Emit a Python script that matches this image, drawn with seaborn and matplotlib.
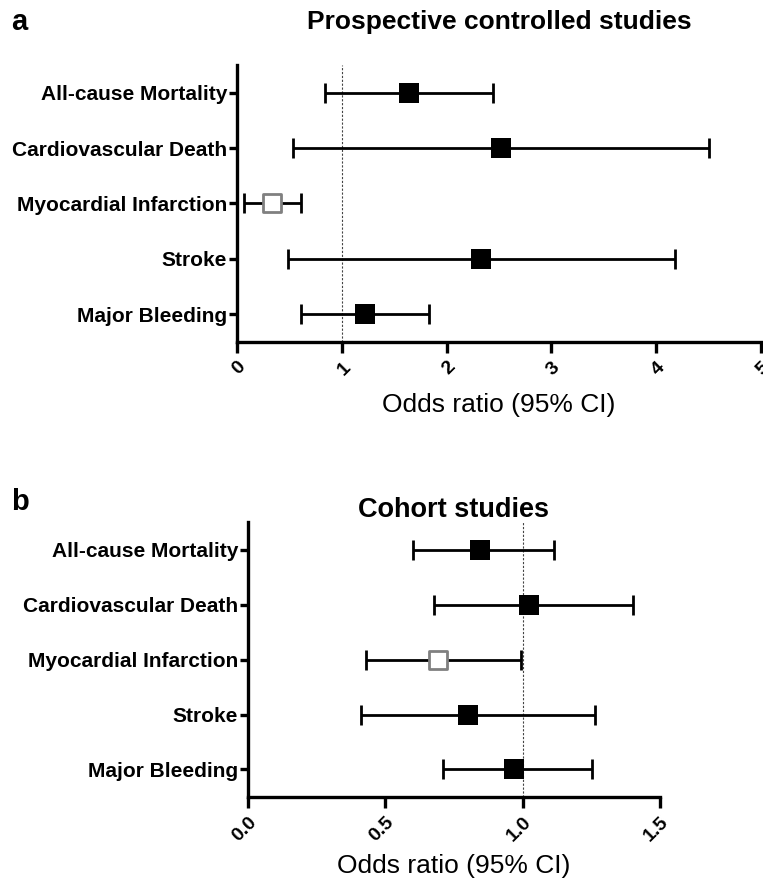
import numpy as np
import pandas as pd
import matplotlib
matplotlib.use("Agg")
import matplotlib.pyplot as plt
import seaborn as sns

categories = ["All-cause Mortality", "Cardiovascular Death", "Myocardial Infarction",
              "Stroke", "Major Bleeding"]
open_marker = [False, False, True, False, False]

# Panel a: prospective controlled studies
a_or = [1.64, 2.52, 0.33, 2.33, 1.22]
a_lo = [0.84, 0.53, 0.065, 0.49, 0.61]
a_hi = [2.44, 4.50, 0.61, 4.18, 1.83]

# Panel b: cohort studies
b_or = [0.846, 1.023, 0.69, 0.80, 0.968]
b_lo = [0.60, 0.679, 0.429, 0.41, 0.711]
b_hi = [1.113, 1.40, 0.995, 1.262, 1.254]

a_ticks = [0, 1, 2, 3, 4, 5]
a_ticklabels = ["0", "1", "2", "3", "4", "5"]
b_ticks = [0.0, 0.5, 1.0, 1.5]
b_ticklabels = ["0.0", "0.5", "1.0", "1.5"]

sns.set_theme(style="ticks")
plt.rcParams["font.family"] = ["Liberation Sans", "DejaVu Sans"]
plt.rcParams["text.color"] = "black"
plt.rcParams["xtick.color"] = "black"
plt.rcParams["ytick.color"] = "black"

fig = plt.figure(figsize=(7.63, 8.83), dpi=100)
ax_a = fig.add_axes([0.3106, 0.6127, 0.6868, 0.3137])
ax_b = fig.add_axes([0.3250, 0.0974, 0.5400, 0.3114])

label_font = {"weight": "bold", "size": 15}


def draw(ax, est, lo, hi, xlim, ticks, ticklabels):
    df = pd.DataFrame({"cat": categories, "pos": np.arange(len(categories)),
                       "est": est, "lo": lo, "hi": hi, "open": open_marker})
    ax.axvline(1.0, color="#444444", lw=0.8, ls=(0, (2, 1.5)), zorder=1)
    ax.errorbar(df["est"], df["pos"],
                xerr=[df["est"] - df["lo"], df["hi"] - df["est"]],
                fmt="none", ecolor="black", elinewidth=2.0, capsize=7.5,
                capthick=2.0, zorder=2)
    filled = df[~df["open"]]
    hollow = df[df["open"]]
    sns.scatterplot(data=filled, x="est", y="pos", marker="s", s=190,
                    color="black", edgecolor="black", linewidth=0, ax=ax, zorder=3)
    sns.scatterplot(data=hollow, x="est", y="pos", marker="s", s=150,
                    facecolor="white", edgecolor="#808080", linewidth=2.0,
                    ax=ax, zorder=3)
    ax.set_xlim(*xlim)
    ax.set_ylim(4.5, -0.5)
    ax.set_yticks(df["pos"])
    ax.set_yticklabels(df["cat"], fontdict=label_font)
    ax.set_xticks(ticks)
    ax.set_xticklabels(ticklabels, rotation=45, ha="right", rotation_mode="anchor",
                       fontsize=14, fontweight="bold")
    ax.set_xlabel("")
    ax.set_ylabel("")
    for side in ["top", "right"]:
        ax.spines[side].set_visible(False)
    for side in ["left", "bottom"]:
        ax.spines[side].set_linewidth(2.4)
        ax.spines[side].set_color("black")
    ax.tick_params(axis="y", length=6, width=2.4, pad=1)
    ax.tick_params(axis="x", length=8, width=2.4, pad=4)


draw(ax_a, a_or, a_lo, a_hi, (0, 5), a_ticks, a_ticklabels)
draw(ax_b, b_or, b_lo, b_hi, (0, 1.5), b_ticks, b_ticklabels)

fig.text(0.014, 0.975, "a", fontsize=21, fontweight="bold", va="center", ha="left")
fig.text(0.654, 0.975, "Prospective controlled studies", fontsize=19,
         fontweight="bold", va="center", ha="center")
fig.text(0.014, 0.431, "b", fontsize=21, fontweight="bold", va="center", ha="left")
fig.text(0.595, 0.422, "Cohort studies", fontsize=19.5, fontweight="bold",
         va="center", ha="center")
fig.text(0.654, 1 - 405 / 883, "Odds ratio (95% CI)", fontsize=19,
         va="center", ha="center")
fig.text(0.595, 1 - 866 / 883, "Odds ratio (95% CI)", fontsize=19,
         va="center", ha="center")

fig.savefig("out.png", dpi=100)
